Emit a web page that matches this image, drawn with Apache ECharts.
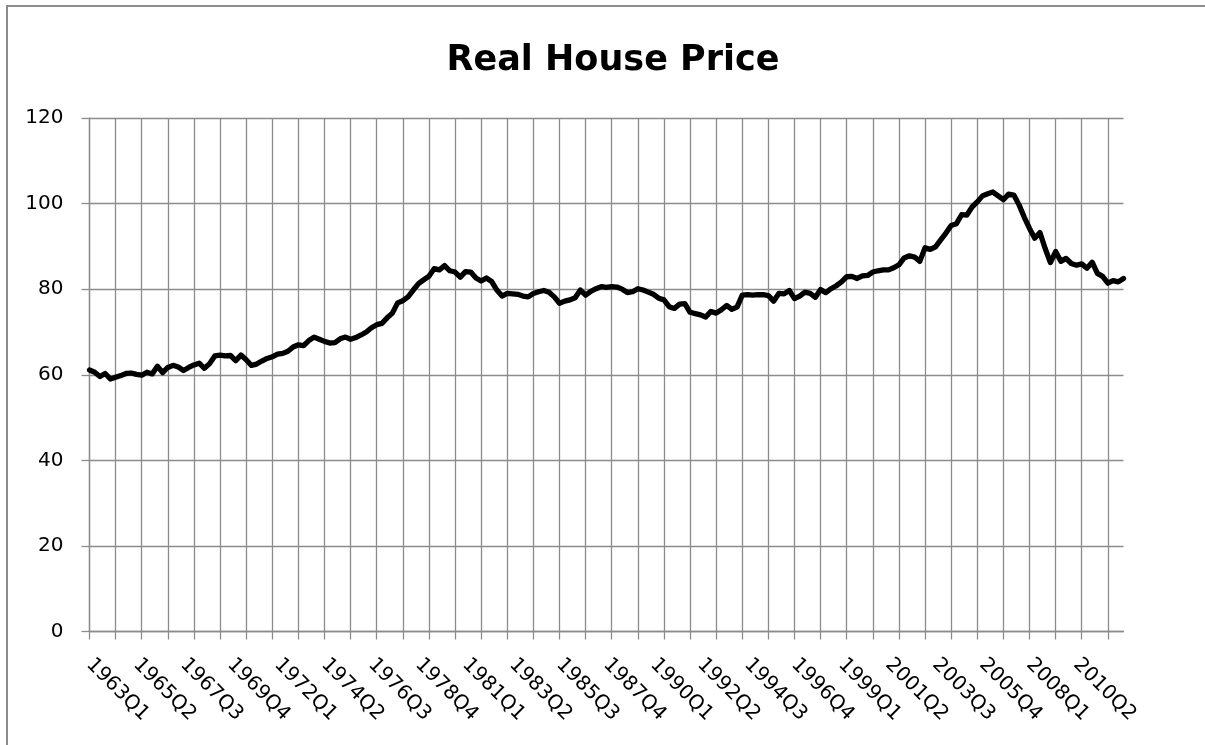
<!DOCTYPE html>
<html>
<head>
<meta charset="utf-8">
<title>Real House Price</title>
<script src="https://cdn.jsdelivr.net/npm/echarts@6/dist/echarts.min.js"></script>
<style>
    html, body { margin: 0; padding: 0; background: #fff; }
    #chart { width: 1205px; height: 745px; }
</style>
</head>
<body>
<div id="chart"></div>
<script>
// quarterly values, one array per decade
var values1963to1969 = [
    61.1, 60.6, 59.6, 60.3,
    59.0, 59.4, 59.8, 60.3,
    60.4, 60.1, 59.9, 60.6,
    60.2, 62.0, 60.5, 61.7,
    62.2, 61.8, 61.0, 61.7,
    62.3, 62.7, 61.5, 62.6,
    64.4, 64.6, 64.4, 64.5
]
var values1970s = [
    63.3, 64.6, 63.5, 62.2,
    62.5, 63.2, 63.8, 64.2,
    64.8, 65.0, 65.5, 66.5,
    67.0, 66.8, 68.0, 68.8,
    68.3, 67.8, 67.4, 67.5,
    68.4, 68.8, 68.3, 68.7,
    69.3, 70.0, 71.0, 71.7,
    72.0, 73.3, 74.4, 76.8,
    77.3, 78.2, 79.8, 81.3,
    82.2, 83.0, 84.8, 84.5
]
var values1980s = [
    85.5, 84.3, 84.0, 82.8,
    84.1, 84.0, 82.6, 81.9,
    82.6, 81.8, 79.8, 78.4,
    79.0, 78.9, 78.8, 78.4,
    78.2, 79.0, 79.4, 79.7,
    79.3, 78.2, 76.7, 77.2,
    77.5, 78.0, 79.8, 78.6,
    79.5, 80.1, 80.6, 80.4,
    80.6, 80.5, 80.0, 79.2,
    79.4, 80.1, 79.8, 79.3
]
var values1990s = [
    78.8, 77.9, 77.5, 75.9,
    75.5, 76.5, 76.6, 74.6,
    74.3, 74.0, 73.5, 74.8,
    74.4, 75.2, 76.2, 75.3,
    75.8, 78.6, 78.7, 78.6,
    78.7, 78.7, 78.5, 77.2,
    79.0, 78.9, 79.7, 77.8,
    78.4, 79.3, 79.0, 78.1,
    79.9, 79.2, 80.1, 80.8,
    81.7, 82.9, 83.0, 82.5
]
var values2000s = [
    83.1, 83.2, 84.0, 84.3,
    84.5, 84.5, 85.0, 85.7,
    87.3, 87.8, 87.5, 86.5,
    89.7, 89.3, 89.9, 91.5,
    93.1, 94.9, 95.3, 97.4,
    97.3, 99.2, 100.4, 101.8,
    102.3, 102.7, 101.8, 100.9,
    102.2, 102.0, 99.7, 96.8,
    94.2, 91.9, 93.2, 89.5,
    86.2, 88.8, 86.5, 87.2
]
var values2010to2012 = [
    86.0, 85.6, 85.9, 84.9,
    86.3, 83.7, 83.0, 81.4,
    82.0, 81.7, 82.5
]
var firstYear = 1963
var yTicks = [0, 20, 40, 60, 80, 100, 120]

var prices = [].concat(values1963to1969, values1970s, values1980s, values1990s, values2000s, values2010to2012)
var quarters = []
for (var i = 0; i < prices.length; i++) {
    quarters.push((firstYear + Math.floor(i / 4)) + 'Q' + (i % 4 + 1))
}

var gray = '#8c8c8c'
var font = 'DejaVu Sans'

var chart = echarts.init(document.getElementById('chart'))
var option = {
    animation: false,
    backgroundColor: '#fff',
    graphic: [{
        type: 'rect',
        z: -10,
        shape: { x: 7, y: 6, width: 1300, height: 900 },
        style: { fill: 'none', stroke: gray, lineWidth: 2 }
    }],
    title: {
        text: 'Real House Price',
        left: 608,
        textAlign: 'center',
        top: 38,
        textStyle: { fontFamily: font, fontWeight: 'bold', fontSize: 35, color: '#000' }
    },
    grid: {
        left: 89.5,
        right: 81.5,
        top: 118,
        bottom: 113.5,
        outerBoundsMode: 'none'
    },
    xAxis: {
        type: 'category',
        boundaryGap: false,
        data: quarters,
        axisLine: { lineStyle: { color: gray, width: 1.3 } },
        axisTick: { show: true, interval: 4, length: 8, lineStyle: { color: gray, width: 1.3 } },
        splitLine: { show: true, interval: 4, lineStyle: { color: gray, width: 1.3 } },
        axisLabel: {
            interval: function (index) { return index % 9 === 0 && index < prices.length - 1 },
            rotate: -45,
            margin: 30,
            fontFamily: font,
            fontSize: 20,
            color: '#000'
        }
    },
    yAxis: {
        type: 'value',
        min: yTicks[0],
        max: yTicks[yTicks.length - 1],
        interval: yTicks[1] - yTicks[0],
        axisLine: { show: true, lineStyle: { color: gray, width: 1.3 } },
        axisTick: { show: true, length: 8, lineStyle: { color: gray, width: 1.3 } },
        splitLine: { lineStyle: { color: gray, width: 1.3 } },
        axisLabel: { margin: 26, fontFamily: font, fontSize: 20, color: '#000' }
    },
    series: [{
        name: 'Real House Price',
        type: 'line',
        data: prices,
        showSymbol: false,
        smooth: false,
        lineStyle: { color: '#000', width: 5.3, join: 'round', cap: 'round' }
    }]
}
chart.setOption(option)
</script>
</body>
</html>
